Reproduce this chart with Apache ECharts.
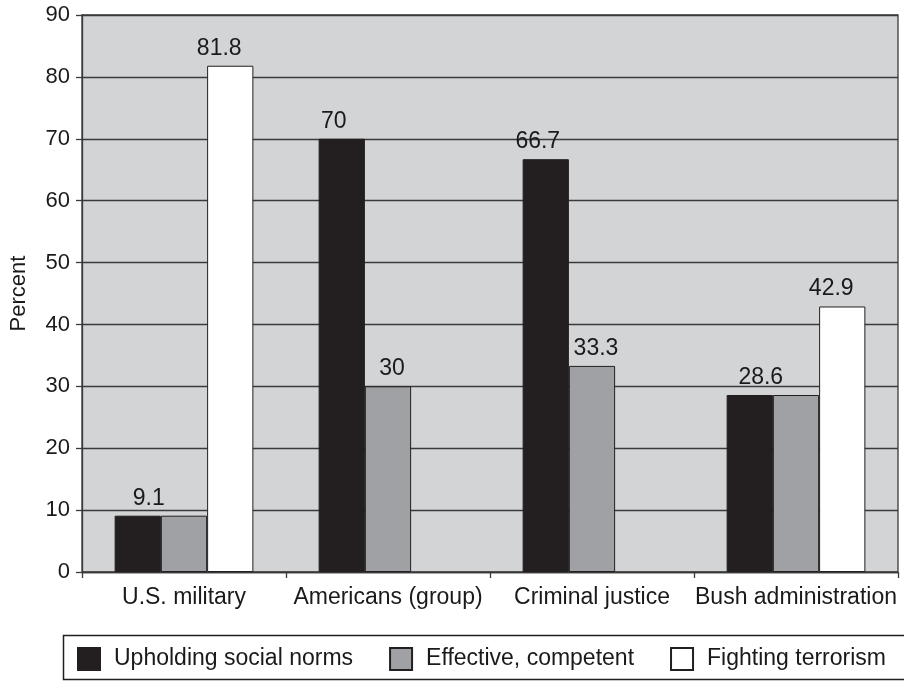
<!DOCTYPE html>
<html>
<head>
<meta charset="utf-8">
<title>Percent by category</title>
<script src="https://cdn.jsdelivr.net/npm/echarts@6/dist/echarts.min.js"></script>
<style>
  html, body { margin: 0; padding: 0; background: #ffffff; }
  #chart { width: 904px; height: 681px; }
</style>
</head>
<body>
<div id="chart"></div>
<script>
// Categories along the horizontal axis
const categories = ['U.S. military', 'Americans (group)', 'Criminal justice', 'Bush administration'];

// Series values (percent); null means no bar for that category
const upholdingNorms = [9.1, 70, 66.7, 28.6];
const effectiveCompetent = [9.1, 30, 33.3, 28.6];
const fightingTerrorism = [81.8, null, null, 42.9];

const seriesNames = ['Upholding social norms', 'Effective, competent', 'Fighting terrorism'];

// Value axis ticks
const yMin = 0;
const yMax = 90;
const yStep = 10;

const FONT = 'Liberation Sans, Arial, Helvetica, sans-serif';
const INK = '#231f20';
const TEXT = '#1a1a1a';
const LINE = '#3a3a3a';

// Per-bar data: when two neighbouring bars share a value only one label
// is drawn, placed between them.
function darkData() {
  return upholdingNorms.map((v, i) => {
    const shared = v === effectiveCompetent[i];
    return { value: v, label: { offset: shared ? [11, 0] : [-8, 0] } };
  });
}
function grayData() {
  return effectiveCompetent.map((v, i) => {
    const shared = v === upholdingNorms[i];
    return { value: v, label: { show: !shared, offset: [4, 0] } };
  });
}
function whiteData() {
  return fightingTerrorism.map(v => (v == null ? '-' : { value: v, label: { offset: [-11, 0] } }));
}

const labelStyle = {
  show: true,
  position: 'top',
  distance: 6,
  color: TEXT,
  fontFamily: FONT,
  fontSize: 23
};

const chart = echarts.init(document.getElementById('chart'), null, { renderer: 'canvas' });

chart.setOption({
  animation: false,
  backgroundColor: '#ffffff',
  textStyle: { fontFamily: FONT, color: TEXT },
  grid: {
    left: 79,
    right: 6,
    top: 15,
    bottom: 109,
    show: true,
    backgroundColor: '#d3d4d6',
    borderColor: LINE,
    borderWidth: 1.3
  },
  // Frame around the legend, running off the right edge
  graphic: [{
    type: 'rect',
    shape: { x: 63.5, y: 635.5, width: 870, height: 44 },
    style: { fill: 'none', stroke: INK, lineWidth: 1.5 },
    silent: true
  }],
  legend: {
    data: seriesNames,
    left: 63,
    top: 635,
    orient: 'horizontal',
    itemWidth: 22,
    itemHeight: 22,
    itemGap: 36,
    padding: [12, 0, 11, 14],
    icon: 'rect',
    textStyle: {
      fontFamily: FONT,
      fontSize: 23,
      color: TEXT,
      padding: [0, 0, 0, 9]
    }
  },
  xAxis: {
    type: 'category',
    data: categories,
    axisLine: { show: true, lineStyle: { color: LINE, width: 1.3 } },
    axisTick: { show: true, length: 6, lineStyle: { color: LINE, width: 1.3 } },
    axisLabel: { color: TEXT, fontFamily: FONT, fontSize: 23, margin: 14, interval: 0 },
    splitLine: { show: false }
  },
  yAxis: {
    type: 'value',
    min: yMin,
    max: yMax,
    interval: yStep,
    name: 'Percent',
    nameLocation: 'middle',
    nameGap: 52,
    nameRotate: 90,
    nameTextStyle: { color: TEXT, fontFamily: FONT, fontSize: 22 },
    axisLine: { show: true, lineStyle: { color: LINE, width: 1.3 } },
    axisTick: { show: true, length: 6, lineStyle: { color: LINE, width: 1.3 } },
    axisLabel: { color: TEXT, fontFamily: FONT, fontSize: 22, margin: 12 },
    splitLine: { show: true, lineStyle: { color: LINE, width: 1.3 } }
  },
  series: [
    {
      name: seriesNames[0],
      type: 'bar',
      data: darkData(),
      barGap: '0%',
      barCategoryGap: '32%',
      itemStyle: { color: INK, borderColor: INK, borderWidth: 1 },
      label: labelStyle
    },
    {
      name: seriesNames[1],
      type: 'bar',
      data: grayData(),
      barGap: '0%',
      barCategoryGap: '32%',
      itemStyle: { color: '#a0a1a5', borderColor: INK, borderWidth: 1 },
      label: labelStyle
    },
    {
      name: seriesNames[2],
      type: 'bar',
      data: whiteData(),
      barGap: '0%',
      barCategoryGap: '32%',
      itemStyle: { color: '#ffffff', borderColor: INK, borderWidth: 1 },
      label: labelStyle
    }
  ]
});
</script>
</body>
</html>
